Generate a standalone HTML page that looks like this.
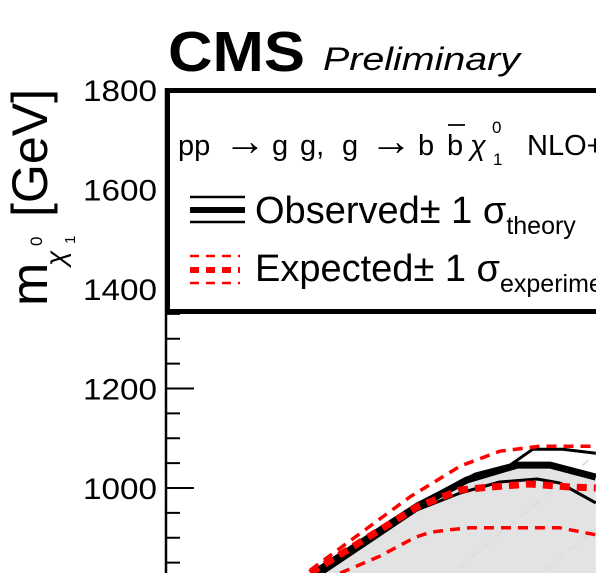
<!DOCTYPE html>
<html><head><meta charset="utf-8"><style>
html,body{margin:0;background:#fff;overflow:hidden;width:596px;height:573px;}
svg{display:block;font-family:"Liberation Sans",sans-serif;}
</style></head><body>
<svg width="596" height="573" viewBox="0 0 596 573">
<defs><clipPath id="plot"><rect x="165" y="88" width="431" height="485"/></clipPath></defs>
<g id="marks" clip-path="url(#plot)"></g>
<g id="axis"></g>
<rect x="167.5" y="90.5" width="440" height="221" fill="#fff" stroke="#000" stroke-width="5"/>
<text x="168" y="71" font-size="57" font-weight="bold" textLength="137" lengthAdjust="spacingAndGlyphs">CMS</text>
<text x="323" y="70" font-size="32" font-style="italic" textLength="197" lengthAdjust="spacingAndGlyphs">Preliminary</text>
<g font-size="29">
<text x="178" y="155">pp</text>
<text x="224" y="155" font-size="42">→</text>
<text x="272" y="155">g</text>
<text x="300" y="155">g,</text>
<text x="342" y="155">g</text>
<text x="370" y="155" font-size="42">→</text>
<text x="418" y="155">b</text>
<text x="447" y="155">b</text>
<line x1="448" y1="125" x2="465" y2="125" stroke="#000" stroke-width="1.8"/>
<text x="470" y="155" font-style="italic">χ</text>
<text x="493" y="165" font-size="17">1</text>
<text x="492" y="133" font-size="17">0</text>
<text x="527" y="155">NLO+NLL exclusion</text>
</g>
<g>
<line x1="190" y1="197" x2="245" y2="197" stroke="#000" stroke-width="2.5"/>
<line x1="190" y1="210" x2="245" y2="210" stroke="#000" stroke-width="6"/>
<line x1="190" y1="222" x2="245" y2="222" stroke="#000" stroke-width="2.5"/>
<text x="255" y="223" font-size="38">Observed± 1 σ<tspan font-size="25" dy="11">theory</tspan></text>
</g>
<g>
<line x1="190" y1="256" x2="240" y2="256" stroke="#f00" stroke-width="2.5" stroke-dasharray="9,7"/>
<line x1="190" y1="270" x2="240" y2="270" stroke="#f00" stroke-width="6" stroke-dasharray="9,7"/>
<line x1="190" y1="283" x2="240" y2="283" stroke="#f00" stroke-width="2.5" stroke-dasharray="9,7"/>
<text x="255" y="281" font-size="38">Expected± 1 σ<tspan font-size="25" dy="11">experiment</tspan></text>
</g>
<g transform="translate(47,306) rotate(-90)">
<text x="0" y="0" font-size="52">m</text>
<text x="40" y="18" font-size="28" font-style="italic">χ</text>
<text x="62" y="28" font-size="15">1</text>
<text x="60" y="-5" font-size="17">0</text>
<text x="89" y="0" font-size="50" textLength="128" lengthAdjust="spacingAndGlyphs">[GeV]</text>
</g>
</svg>
<script>
const yTicks=[1800,1600,1400,1200,1000,800];
const obsX=[850,1020,1103,1187,1242,1318];
const obsY=[829,962,1016,1046,1046,1022];
const obsUpX=[850,1020,1117,1175,1213,1263,1318];
const obsUpY=[835,968,1028,1046,1078,1078,1070];
const obsDnX=[863,1020,1092,1158,1220,1258,1318];
const obsDnY=[829,956,990,1012,1018,1010,970];
const expX=[842,1020,1092,1142,1208,1275,1318];
const expY=[829,962,996,1002,1008,1002,1000];
const expUpX=[842,1008,1092,1158,1225,1318];
const expUpY=[835,982,1044,1074,1084,1084];
const expDnX=[892,958,1017,1042,1075,1108,1258,1318];
const expDnY=[829,863,901,911,916,920,920,906];
const diagOffsets=[250,400];
const NS='http://www.w3.org/2000/svg';
const sx=m=>165+(m-600)*0.6;
const sy=v=>90+(1800-v)*0.4975;
const marks=document.getElementById('marks'),axis=document.getElementById('axis');
function mk(tag,attrs,parent){const e=document.createElementNS(NS,tag);for(const k in attrs)e.setAttribute(k,attrs[k]);parent.appendChild(e);return e;}
function pts(xs,ys){return xs.map((x,i)=>sx(x).toFixed(1)+','+sy(ys[i]).toFixed(1)).join(' ');}
let f=mk('polygon',{points:pts(obsX,obsY)+' '+sx(obsX[obsX.length-1])+',600 '+sx(obsX[0])+',600',fill:'#e3e3e3'},marks);


diagOffsets.forEach(o=>{const l=mk('line',{x1:sx(700),y1:sy(700-o),x2:sx(1500),y2:sy(1500-o),stroke:'#ddd','stroke-width':2,'stroke-dasharray':'8,8'},marks);

});
function line(xs,ys,col,w,dash,name){const p=mk('polyline',{points:pts(xs,ys),fill:'none',stroke:col,'stroke-width':w,'stroke-linejoin':'round'},marks);if(dash)p.setAttribute('stroke-dasharray',dash);

}
line(obsUpX,obsUpY,'#000',3,null,'observed-plus-1sigma');
line(obsDnX,obsDnY,'#000',3,null,'observed-minus-1sigma');
line(obsX,obsY,'#000',7,null,'observed-limit');
line(expUpX,expUpY,'#f00',3.5,'10,7','expected-plus-1sigma');
line(expDnX,expDnY,'#f00',3.5,'10,7','expected-minus-1sigma');
line(expX,expY,'#f00',7,'10,7','expected-limit');
let ax=mk('line',{x1:166,y1:88,x2:166,y2:573,stroke:'#000','stroke-width':2.5},axis);


for(let v=800;v<=1800;v+=50){const major=v%200===0;mk('line',{x1:166,y1:sy(v),x2:166+(major?28:14),y2:sy(v),stroke:'#000','stroke-width':2},axis);}
yTicks.forEach(v=>{const t=mk('text',{x:157,y:sy(v)+11,'font-size':30,'text-anchor':'end',textLength:74,lengthAdjust:'spacingAndGlyphs'},axis);t.textContent=v;

});
</script>
</body></html>
